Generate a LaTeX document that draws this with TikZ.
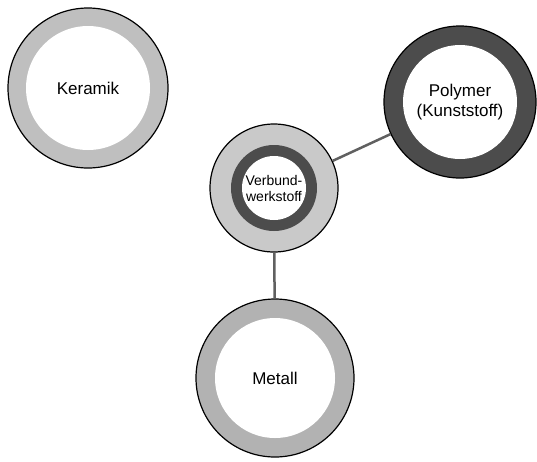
\documentclass[tikz,border=0pt]{standalone}
\usepackage{fontspec}
\setmainfont{Liberation Sans}

\begin{document}
\begin{tikzpicture}[x=1pt, y=-1pt,
    ring/.style={circle, draw=black, line width=1.2pt, inner sep=0pt},
    hole/.style={circle, fill=white, inner sep=0pt, align=center,
      font=\fontsize{17}{20}\selectfont},
    link/.style={draw=gray!75!black, line width=2.5pt}]
    \useasboundingbox (0,0) rectangle (537,461);
    \node[ring, fill=gray!50, minimum size=160pt] (ker) at (88,88) {};
    \node[hole, minimum size=124pt] (kertext) at (ker) {Keramik};
    \node[ring, fill=black!70, minimum size=152pt] (poly) at (460,102) {};
    \node[hole, minimum size=114pt] (polytext) at (poly) {Polymer\\(Kunststoff)};
    \node[ring, fill=gray!42, minimum size=128pt] (verb) at (274,188) {};
    \node[circle, fill=black!70, inner sep=0pt, minimum size=86pt] (verbmid) at (verb) {};
    \node[hole, minimum size=64pt, font=\fontsize{14}{16}\selectfont] (verbtext) at (verb) {Verbund-\\werkstoff};
    \node[ring, fill=gray!60, minimum size=158pt] (met) at (275,378) {};
    \node[hole, minimum size=120pt] (mettext) at (met) {Metall};
    \draw [link] (verb) to (poly);
    \draw [link] (verb) to (met);
  \end{tikzpicture}
\end{document}
